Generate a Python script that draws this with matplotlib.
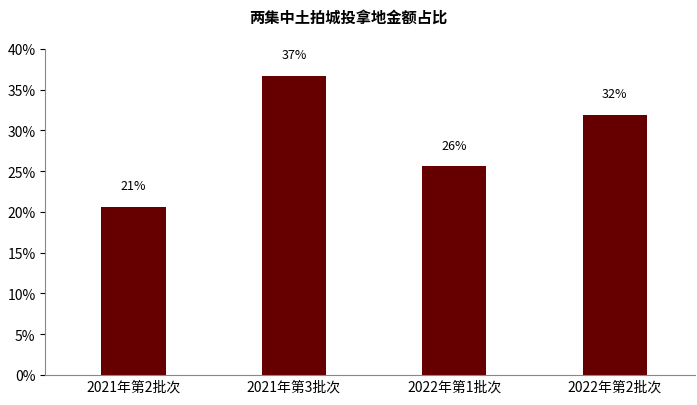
import matplotlib.pyplot as plt
from matplotlib.ticker import PercentFormatter

plt.rcParams['font.family'] = ['Noto Sans CJK SC', 'DejaVu Sans']

categories = ['2021年第2批次', '2021年第3批次', '2022年第1批次', '2022年第2批次']
shares = [20.6, 36.7, 25.6, 31.9]
labels = ['21%', '37%', '26%', '32%']

fig = plt.figure(figsize=(6.97, 4.06), dpi=100)
ax = fig.add_axes([0.065, 0.074, 0.932, 0.803])

x = range(len(categories))
ax.bar(x, shares, width=0.4, color='#660000')
for i, v in enumerate(shares):
    ax.text(i, v + 1.8, labels[i], ha='center', va='bottom', fontsize=9)

ax.set_xlim(-0.55, len(categories) - 0.5)
ax.set_ylim(0, 40)
ax.set_yticks(range(0, 41, 5))
ax.yaxis.set_major_formatter(PercentFormatter(decimals=0))
ax.set_xticks(list(x))
ax.set_xticklabels(categories)
ax.tick_params(labelsize=10)
ax.tick_params(axis='x', length=0)
for s in ['top', 'right']:
    ax.spines[s].set_visible(False)
ax.spines['left'].set_color('#888888')
ax.spines['bottom'].set_color('#888888')

fig.suptitle('两集中土拍城投拿地金额占比', y=0.975, fontsize=11, fontweight='bold')
fig.savefig('out.png', dpi=100)
